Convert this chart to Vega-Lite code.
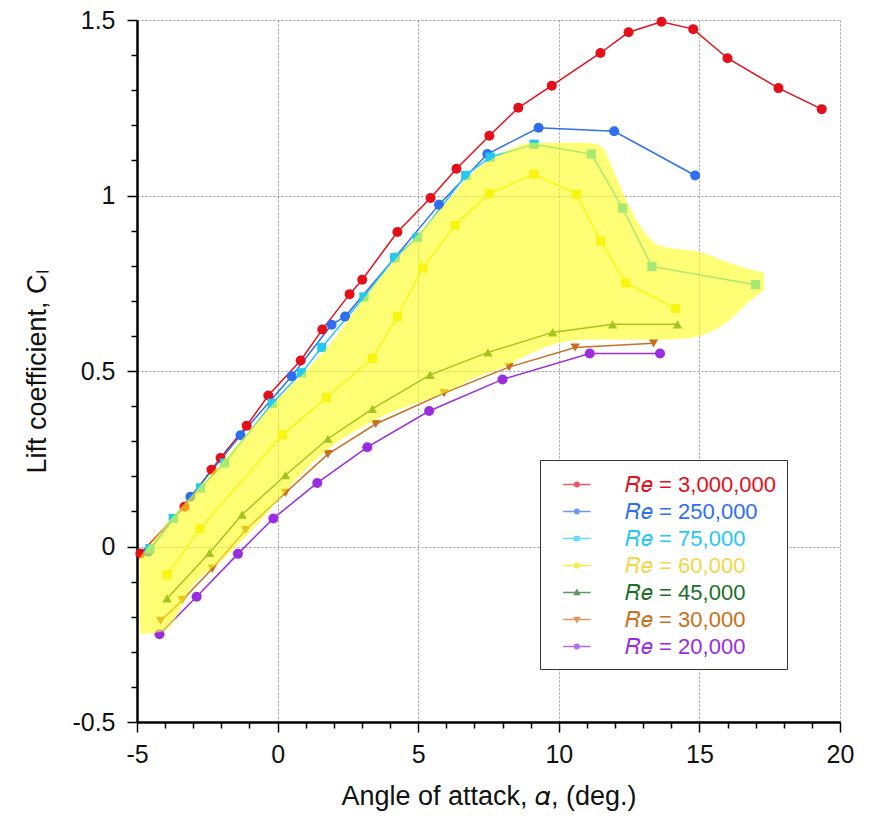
{
  "$schema": "https://vega.github.io/schema/vega-lite/v6.json",
  "width": 703,
  "height": 702,
  "autosize": "none",
  "padding": {"left": 137, "top": 20, "right": 34, "bottom": 94},
  "config": {
    "font": "Liberation Sans",
    "view": {"stroke": null},
    "axis": {
      "domainColor": "#000",
      "domainWidth": 2.5,
      "tickColor": "#000",
      "tickWidth": 1.5,
      "labelFontSize": 25,
      "labelColor": "#111",
      "titleFontSize": 27,
      "titleFontWeight": "normal",
      "titleColor": "#111",
      "gridColor": "#999",
      "gridDash": [2, 2],
      "gridWidth": 1
    }
  },
  "datasets": {
    "curves": [
      {"Re": "3,000,000", "alpha": -4.88, "Cl": -0.02},
      {"Re": "3,000,000", "alpha": -3.31, "Cl": 0.113},
      {"Re": "3,000,000", "alpha": -2.35, "Cl": 0.219},
      {"Re": "3,000,000", "alpha": -2.03, "Cl": 0.252},
      {"Re": "3,000,000", "alpha": -1.10, "Cl": 0.344},
      {"Re": "3,000,000", "alpha": -0.33, "Cl": 0.43},
      {"Re": "3,000,000", "alpha": 0.82, "Cl": 0.53},
      {"Re": "3,000,000", "alpha": 1.59, "Cl": 0.618},
      {"Re": "3,000,000", "alpha": 2.56, "Cl": 0.719},
      {"Re": "3,000,000", "alpha": 3.01, "Cl": 0.76},
      {"Re": "3,000,000", "alpha": 4.26, "Cl": 0.896},
      {"Re": "3,000,000", "alpha": 5.44, "Cl": 0.993},
      {"Re": "3,000,000", "alpha": 6.36, "Cl": 1.076},
      {"Re": "3,000,000", "alpha": 7.53, "Cl": 1.17},
      {"Re": "3,000,000", "alpha": 8.56, "Cl": 1.25},
      {"Re": "3,000,000", "alpha": 9.75, "Cl": 1.313},
      {"Re": "3,000,000", "alpha": 11.48, "Cl": 1.406},
      {"Re": "3,000,000", "alpha": 12.48, "Cl": 1.465},
      {"Re": "3,000,000", "alpha": 13.65, "Cl": 1.495},
      {"Re": "3,000,000", "alpha": 14.78, "Cl": 1.474},
      {"Re": "3,000,000", "alpha": 16.0, "Cl": 1.391},
      {"Re": "3,000,000", "alpha": 17.81, "Cl": 1.306},
      {"Re": "3,000,000", "alpha": 19.35, "Cl": 1.246},
      {"Re": "250,000", "alpha": -4.6, "Cl": -0.015},
      {"Re": "250,000", "alpha": -3.1, "Cl": 0.142},
      {"Re": "250,000", "alpha": -1.32, "Cl": 0.317},
      {"Re": "250,000", "alpha": 0.5, "Cl": 0.485},
      {"Re": "250,000", "alpha": 1.92, "Cl": 0.632},
      {"Re": "250,000", "alpha": 2.4, "Cl": 0.655},
      {"Re": "250,000", "alpha": 4.17, "Cl": 0.823},
      {"Re": "250,000", "alpha": 5.74, "Cl": 0.974},
      {"Re": "250,000", "alpha": 7.46, "Cl": 1.118},
      {"Re": "250,000", "alpha": 9.28, "Cl": 1.193},
      {"Re": "250,000", "alpha": 11.97, "Cl": 1.183},
      {"Re": "250,000", "alpha": 14.85, "Cl": 1.057},
      {"Re": "75,000", "alpha": -4.54, "Cl": -0.006},
      {"Re": "75,000", "alpha": -3.71, "Cl": 0.08},
      {"Re": "75,000", "alpha": -2.74, "Cl": 0.167},
      {"Re": "75,000", "alpha": -1.89, "Cl": 0.238},
      {"Re": "75,000", "alpha": -0.19, "Cl": 0.408},
      {"Re": "75,000", "alpha": 0.85, "Cl": 0.495},
      {"Re": "75,000", "alpha": 1.57, "Cl": 0.567},
      {"Re": "75,000", "alpha": 3.07, "Cl": 0.711},
      {"Re": "75,000", "alpha": 4.17, "Cl": 0.823},
      {"Re": "75,000", "alpha": 4.97, "Cl": 0.88},
      {"Re": "75,000", "alpha": 6.69, "Cl": 1.057},
      {"Re": "75,000", "alpha": 7.56, "Cl": 1.109},
      {"Re": "75,000", "alpha": 9.12, "Cl": 1.146},
      {"Re": "75,000", "alpha": 11.16, "Cl": 1.118},
      {"Re": "75,000", "alpha": 12.27, "Cl": 0.964},
      {"Re": "75,000", "alpha": 13.31, "Cl": 0.798},
      {"Re": "75,000", "alpha": 17.0, "Cl": 0.746},
      {"Re": "60,000", "alpha": -3.93, "Cl": -0.08},
      {"Re": "60,000", "alpha": -2.76, "Cl": 0.051},
      {"Re": "60,000", "alpha": 0.17, "Cl": 0.318},
      {"Re": "60,000", "alpha": 1.74, "Cl": 0.424},
      {"Re": "60,000", "alpha": 3.37, "Cl": 0.536},
      {"Re": "60,000", "alpha": 4.26, "Cl": 0.655},
      {"Re": "60,000", "alpha": 5.17, "Cl": 0.794},
      {"Re": "60,000", "alpha": 6.31, "Cl": 0.915},
      {"Re": "60,000", "alpha": 7.52, "Cl": 1.005},
      {"Re": "60,000", "alpha": 9.12, "Cl": 1.061},
      {"Re": "60,000", "alpha": 10.63, "Cl": 1.003},
      {"Re": "60,000", "alpha": 11.49, "Cl": 0.87},
      {"Re": "60,000", "alpha": 12.38, "Cl": 0.751},
      {"Re": "60,000", "alpha": 14.16, "Cl": 0.678},
      {"Re": "45,000", "alpha": -3.93, "Cl": -0.148},
      {"Re": "45,000", "alpha": -2.42, "Cl": -0.018},
      {"Re": "45,000", "alpha": -1.26, "Cl": 0.091},
      {"Re": "45,000", "alpha": 0.28, "Cl": 0.203},
      {"Re": "45,000", "alpha": 1.79, "Cl": 0.307},
      {"Re": "45,000", "alpha": 3.37, "Cl": 0.392},
      {"Re": "45,000", "alpha": 5.42, "Cl": 0.489},
      {"Re": "45,000", "alpha": 7.48, "Cl": 0.553},
      {"Re": "45,000", "alpha": 9.78, "Cl": 0.61},
      {"Re": "45,000", "alpha": 11.91, "Cl": 0.633},
      {"Re": "45,000", "alpha": 14.22, "Cl": 0.633},
      {"Re": "30,000", "alpha": -4.16, "Cl": -0.212},
      {"Re": "30,000", "alpha": -3.39, "Cl": -0.153},
      {"Re": "30,000", "alpha": -2.32, "Cl": -0.063},
      {"Re": "30,000", "alpha": -1.14, "Cl": 0.047},
      {"Re": "30,000", "alpha": 0.28, "Cl": 0.153},
      {"Re": "30,000", "alpha": 1.79, "Cl": 0.263},
      {"Re": "30,000", "alpha": 3.49, "Cl": 0.349},
      {"Re": "30,000", "alpha": 5.92, "Cl": 0.437},
      {"Re": "30,000", "alpha": 8.23, "Cl": 0.511},
      {"Re": "30,000", "alpha": 10.58, "Cl": 0.567},
      {"Re": "30,000", "alpha": 13.37, "Cl": 0.579},
      {"Re": "20,000", "alpha": -4.2, "Cl": -0.25},
      {"Re": "20,000", "alpha": -2.88, "Cl": -0.143},
      {"Re": "20,000", "alpha": -1.41, "Cl": -0.021},
      {"Re": "20,000", "alpha": -0.15, "Cl": 0.08},
      {"Re": "20,000", "alpha": 1.41, "Cl": 0.181},
      {"Re": "20,000", "alpha": 3.19, "Cl": 0.283},
      {"Re": "20,000", "alpha": 5.39, "Cl": 0.386},
      {"Re": "20,000", "alpha": 8.0, "Cl": 0.476},
      {"Re": "20,000", "alpha": 11.1, "Cl": 0.55},
      {"Re": "20,000", "alpha": 13.6, "Cl": 0.55}
    ],
    "band": [
      {"alpha": -4.9, "lo": -0.25, "hi": -0.03},
      {"alpha": -4.0, "lo": -0.24, "hi": 0.06},
      {"alpha": -3.0, "lo": -0.11, "hi": 0.15},
      {"alpha": -2.0, "lo": -0.04, "hi": 0.24},
      {"alpha": -1.0, "lo": 0.04, "hi": 0.33},
      {"alpha": 0.0, "lo": 0.13, "hi": 0.42},
      {"alpha": 1.0, "lo": 0.22, "hi": 0.5},
      {"alpha": 2.0, "lo": 0.29, "hi": 0.59},
      {"alpha": 3.0, "lo": 0.34, "hi": 0.7},
      {"alpha": 4.0, "lo": 0.38, "hi": 0.8},
      {"alpha": 5.0, "lo": 0.41, "hi": 0.89},
      {"alpha": 6.0, "lo": 0.44, "hi": 0.98},
      {"alpha": 7.0, "lo": 0.48, "hi": 1.07},
      {"alpha": 8.0, "lo": 0.51, "hi": 1.12},
      {"alpha": 9.0, "lo": 0.55, "hi": 1.15},
      {"alpha": 10.0, "lo": 0.58, "hi": 1.15},
      {"alpha": 11.0, "lo": 0.59, "hi": 1.15},
      {"alpha": 11.5, "lo": 0.59, "hi": 1.14},
      {"alpha": 12.0, "lo": 0.59, "hi": 1.06},
      {"alpha": 12.5, "lo": 0.59, "hi": 0.97},
      {"alpha": 13.0, "lo": 0.59, "hi": 0.9},
      {"alpha": 13.5, "lo": 0.59, "hi": 0.86},
      {"alpha": 14.0, "lo": 0.59, "hi": 0.85},
      {"alpha": 15.0, "lo": 0.6, "hi": 0.84},
      {"alpha": 16.0, "lo": 0.64, "hi": 0.81},
      {"alpha": 16.8, "lo": 0.7, "hi": 0.79},
      {"alpha": 17.3, "lo": 0.73, "hi": 0.78}
    ]
  },
  "layer": [
    {
      "data": {"name": "curves"},
      "mark": {"type": "line", "strokeWidth": 1.5},
      "encoding": {
        "x": {
          "field": "alpha", "type": "quantitative",
          "scale": {"domain": [-5, 20], "nice": false, "zero": false},
          "axis": {
            "values": [-5,-4,-3,-2,-1,0,1,2,3,4,5,6,7,8,9,10,11,12,13,14,15,16,17,18,19,20],
            "tickCount": 40,
            "labelExpr": "datum.value % 5 == 0 ? '' + datum.value : ''",
            "labelOverlap": false,
            "tickSize": {"condition": {"test": "datum.value % 5 == 0", "value": 10}, "value": 6},
            "gridOpacity": {"condition": {"test": "datum.value % 5 == 0 && datum.value > -5", "value": 1}, "value": 0},
            "labelPadding": 10,
            "labelFlush": false,
            "title": "Angle of attack, 𝛼, (deg.)",
            "titlePadding": 16
          }
        },
        "y": {
          "field": "Cl", "type": "quantitative",
          "scale": {"domain": [-0.5, 1.5], "nice": false, "zero": false},
          "axis": {
            "values": [-0.5,-0.4,-0.3,-0.2,-0.1,0,0.1,0.2,0.3,0.4,0.5,0.6,0.7,0.8,0.9,1,1.1,1.2,1.3,1.4,1.5],
            "tickCount": 40,
            "labelExpr": "abs(round(datum.value * 10)) % 5 == 0 ? '' + datum.value : ''",
            "labelOverlap": false,
            "tickSize": {"condition": {"test": "abs(round(datum.value * 10)) % 5 == 0", "value": 10}, "value": 6},
            "gridOpacity": {"condition": {"test": "abs(round(datum.value * 10)) % 5 == 0 && datum.value > -0.45", "value": 1}, "value": 0},
            "labelPadding": 12,
            "labelFlush": false,
            "title": "Lift coefficient, Cₗ",
            "titlePadding": 20
          }
        },
        "color": {
          "field": "Re", "type": "nominal",
          "scale": {
            "domain": ["20,000", "30,000", "45,000", "60,000", "75,000", "250,000", "3,000,000"],
            "range": ["#9a2de0", "#c87020", "#1c6e28", "#f2e600", "#25c8f4", "#2d6ff0", "#e3101c"]
          },
          "legend": null
        }
      }
    },
    {
      "data": {"name": "curves"},
      "transform": [{"filter": "indexof(['3,000,000', '250,000', '20,000'], datum.Re) >= 0"}],
      "mark": {"type": "point", "shape": "circle", "filled": true, "size": 100, "opacity": 1},
      "encoding": {
        "x": {"field": "alpha", "type": "quantitative"},
        "y": {"field": "Cl", "type": "quantitative"},
        "color": {"field": "Re", "type": "nominal"}
      }
    },
    {
      "data": {"name": "curves"},
      "transform": [{"filter": "indexof(['75,000', '60,000'], datum.Re) >= 0"}],
      "mark": {"type": "point", "shape": "square", "filled": true, "size": 85, "opacity": 1},
      "encoding": {
        "x": {"field": "alpha", "type": "quantitative"},
        "y": {"field": "Cl", "type": "quantitative"},
        "color": {"field": "Re", "type": "nominal"}
      }
    },
    {
      "data": {"name": "curves"},
      "transform": [{"filter": "datum.Re == '45,000'"}],
      "mark": {"type": "point", "shape": "triangle-up", "filled": true, "size": 90, "opacity": 1},
      "encoding": {
        "x": {"field": "alpha", "type": "quantitative"},
        "y": {"field": "Cl", "type": "quantitative"},
        "color": {"field": "Re", "type": "nominal"}
      }
    },
    {
      "data": {"name": "curves"},
      "transform": [{"filter": "datum.Re == '30,000'"}],
      "mark": {"type": "point", "shape": "triangle-down", "filled": true, "size": 90, "opacity": 1},
      "encoding": {
        "x": {"field": "alpha", "type": "quantitative"},
        "y": {"field": "Cl", "type": "quantitative"},
        "color": {"field": "Re", "type": "nominal"}
      }
    },
    {
      "data": {"name": "band"},
      "mark": {"type": "area", "color": "#ffff1a", "opacity": 0.6, "interpolate": "monotone"},
      "encoding": {
        "x": {"field": "alpha", "type": "quantitative"},
        "y": {"field": "lo", "type": "quantitative"},
        "y2": {"field": "hi"}
      }
    },
    {
      "data": {"name": "curves"},
      "transform": [{"filter": "datum.alpha > 100"}],
      "mark": {"type": "point", "strokeWidth": 1.5, "size": 650},
      "encoding": {
        "x": {"field": "alpha", "type": "quantitative"},
        "y": {"field": "Cl", "type": "quantitative"},
        "fill": {
          "field": "Re", "type": "nominal",
          "scale": {
            "domain": ["250,000", "3,000,000", "75,000", "60,000", "45,000", "30,000", "20,000"],
            "range": ["#2d6ff0", "#e3101c", "#25c8f4", "#f2e600", "#1c6e28", "#c87020", "#9a2de0"]
          },
          "legend": null
        },
        "stroke": {
          "field": "Re", "type": "nominal",
          "scale": {
            "domain": ["3,000,000", "75,000", "250,000", "60,000", "45,000", "30,000", "20,000"],
            "range": ["#e3101c", "#25c8f4", "#2d6ff0", "#f2e600", "#1c6e28", "#c87020", "#9a2de0"]
          },
          "legend": null
        },
        "shape": {
          "field": "Re", "type": "nominal",
          "scale": {
            "domain": ["3,000,000", "250,000", "75,000", "60,000", "45,000", "30,000", "20,000"],
            "range": [
              "M-0.108,0H2.049M0.795,0A0.176,0.176,0,1,0,1.147,0A0.176,0.176,0,1,0,0.795,0Z",
              "M-0.108,0H2.049M0.795,0A0.176,0.176,0,1,0,1.147,0A0.176,0.176,0,1,0,0.795,0Z",
              "M-0.108,0H2.049M0.806,-0.165H1.136V0.165H0.806Z",
              "M-0.108,0H2.049M0.806,-0.165H1.136V0.165H0.806Z",
              "M-0.108,0H2.049M0.971,-0.216L1.167,0.157H0.775Z",
              "M-0.108,0H2.049M0.971,0.216L1.167,-0.157H0.775Z",
              "M-0.108,0H2.049M0.795,0A0.176,0.176,0,1,0,1.147,0A0.176,0.176,0,1,0,0.795,0Z"
            ]
          },
          "legend": {
            "title": null,
            "orient": "bottom-right",
            "offset": 53,
            "symbolSize": 650,
            "symbolStrokeWidth": 1.5,
            "symbolFillColor": {"expr": "{'3,000,000': '#e3101c', '250,000': '#2d6ff0', '75,000': '#25c8f4', '60,000': '#f2e600', '45,000': '#1c6e28', '30,000': '#c87020', '20,000': '#9a2de0'}[datum.value]"},
            "symbolStrokeColor": {"expr": "{'3,000,000': '#e3101c', '250,000': '#2d6ff0', '75,000': '#25c8f4', '60,000': '#f2e600', '45,000': '#1c6e28', '30,000': '#c87020', '20,000': '#9a2de0'}[datum.value]"},
            "labelFontSize": 22,
            "labelOffset": 47,
            "labelExpr": "'𝑅𝑒 = ' + datum.label",
            "labelColor": {"expr": "{'3,000,000': '#e3101c', '250,000': '#2d6ff0', '75,000': '#25c8f4', '60,000': '#f0d84a', '45,000': '#1c6e28', '30,000': '#c87020', '20,000': '#9a2de0'}[datum.value]"},
            "strokeColor": "#333",
            "fillColor": "#ffffff",
            "padding": 11
          }
        }
      }
    },
    {
      "mark": {"type": "text", "align": "left", "baseline": "middle", "fontSize": 21, "font": "Liberation Sans", "color": "#111"},
      "encoding": {
        "x": {"datum": -3.88},
        "y": {"datum": 1.354},
        "text": {"value": "NACA 4412 airfoil"}
      }
    }
  ]
}
